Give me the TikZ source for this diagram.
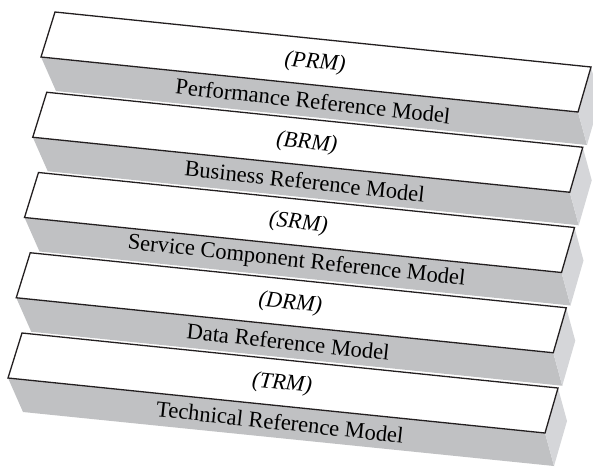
\documentclass[tikz,border=0pt]{standalone}
\usepackage{fontspec}
\setmainfont{Liberation Serif}
\definecolor{frontgray}{RGB}{192,193,195}
\definecolor{sidegray}{RGB}{213,214,217}
\definecolor{edgecol}{RGB}{35,31,32}
\begin{document}
\begin{tikzpicture}[x=1pt,y=-1pt,
  topface/.style={fill=white,draw=edgecol,line width=1.3pt,line join=miter},
  frontface/.style={fill=frontgray},
  sideface/.style={fill=sidegray},
  abbr/.style={font=\fontsize{22.5}{26}\selectfont\itshape,rotate=-5.86,inner sep=0pt},
  fullname/.style={font=\fontsize{22.5}{26}\selectfont,rotate=-6.2,inner sep=0pt}]
\useasboundingbox (0,0) rectangle (593,466);
\clip (0,0) rectangle (593,466);
\foreach \i/\ab/\nm in {0/PRM/Performance Reference Model,
                        1/BRM/Business Reference Model,
                        2/SRM/Service Component Reference Model,
                        3/DRM/Data Reference Model,
                        4/TRM/Technical Reference Model}{
  \begin{scope}[shift={(-8.25*\i,80.25*\i)}]
    \coordinate (A) at (55,12);
    \coordinate (B) at (591,67);
    \coordinate (C) at (578,112);
    \coordinate (D) at (41,57);
    \coordinate (Cb) at (587,145);
    \coordinate (Db) at (56,91);
    \coordinate (Bb) at (600,100);
    \fill[frontface] (D) -- (C) -- (Cb) -- (Db) -- cycle;
    \fill[sideface] (B) -- (Bb) -- (Cb) -- (C) -- cycle;
    \draw[topface] (A) -- (B) -- (C) -- (D) -- cycle;
    \node[abbr] (ab\i) at (315,63) {(\ab)};
    \node[fullname] (nm\i) at (313,101) {\nm};
  \end{scope}
}
\end{tikzpicture}
\end{document}
